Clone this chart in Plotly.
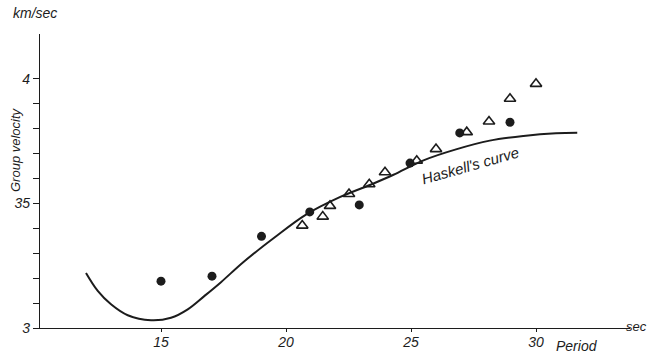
import plotly.graph_objects as go

# Haskell's theoretical curve (period in s, group velocity in km/s)
curve_period = [12.0, 12.47, 13.0, 13.67, 14.6, 15.4, 16.07, 16.73, 17.4, 18.3, 19.5,
                20.8, 22.15, 23.5, 24.3, 25.5, 26.8, 28.15, 29.5, 30.8, 31.65]
curve_velocity = [3.221, 3.149, 3.095, 3.051, 3.031, 3.041, 3.075, 3.128, 3.184, 3.265, 3.36,
                  3.455, 3.525, 3.58, 3.615, 3.673, 3.717, 3.752, 3.771, 3.782, 3.784]

# Observed values - filled circles
circle_period = [15.0, 17.04, 19.02, 20.95, 22.93, 24.96, 26.95, 28.96]
circle_velocity = [3.188, 3.208, 3.368, 3.466, 3.494, 3.662, 3.783, 3.826]

# Observed values - open triangles
tri_period = [20.65, 21.47, 21.76, 22.52, 23.33, 23.96, 25.23, 26.0, 27.23, 28.12, 28.96, 30.0]
tri_velocity = [3.411, 3.447, 3.49, 3.538, 3.577, 3.625, 3.671, 3.718, 3.786, 3.829, 3.92, 3.98]

# Axis ticks
x_tick_vals = [15, 20, 25, 30]
x_tick_text = ["15", "20", "25", "30"]
y_tick_vals = [3.0, 3.1, 3.2, 3.3, 3.4, 3.5, 3.6, 3.7, 3.8, 3.9, 4.0]
y_tick_text = ["3", "", "", "", "", "35", "", "", "", "", "4"]

INK = "#1c1c1c"
FONT = "Liberation Sans"

fig = go.Figure()
fig.add_trace(go.Scatter(x=curve_period, y=curve_velocity, mode="lines",
                         line=dict(color=INK, width=2, shape="spline", smoothing=1.0),
                         hoverinfo="skip", showlegend=False))
fig.add_trace(go.Scatter(x=tri_period, y=tri_velocity, mode="markers",
                         marker=dict(symbol="triangle-up-open", size=10, color=INK,
                                     line=dict(width=1.6, color=INK)),
                         showlegend=False))
fig.add_trace(go.Scatter(x=circle_period, y=circle_velocity, mode="markers",
                         marker=dict(symbol="circle", size=9, color=INK),
                         showlegend=False))

L, T, W, H = 40, 34, 590, 294


def px(x):
    return (x - L) / W


def py(y):
    return (T + H - y) / H


ann = [
    dict(text="km/sec", x=px(35), y=py(13), size=14, angle=0),
    dict(text="Group velocity", x=px(15), y=py(150), size=13, angle=-90),
    dict(text="sec", x=px(636), y=py(326), size=13, angle=0),
    dict(text="Period", x=px(577), y=py(346), size=14, angle=0),
    dict(text="Haskell's curve", x=px(470), y=py(165), size=15, angle=-16),
]

fig.update_layout(
    width=650, height=354,
    margin=dict(l=L, r=650 - L - W, t=T, b=354 - T - H, autoexpand=False),
    paper_bgcolor="white", plot_bgcolor="white",
    font=dict(family=FONT, color=INK, size=12, style="italic"),
    xaxis=dict(range=[10.16, 33.76], showgrid=False, zeroline=False, automargin=False,
               showline=True, linecolor=INK, linewidth=1.3,
               tickmode="array", tickvals=x_tick_vals, ticktext=x_tick_text,
               ticks="outside", ticklen=3, tickwidth=1, tickcolor=INK,
               ticklabelstandoff=-2,
               tickfont=dict(family=FONT, size=14, color=INK, style="italic")),
    yaxis=dict(range=[3.0, 4.18], showgrid=False, zeroline=False, automargin=False,
               showline=True, linecolor=INK, linewidth=1.3,
               tickmode="array", tickvals=y_tick_vals, ticktext=y_tick_text,
               ticks="outside", ticklen=6, tickwidth=1, tickcolor=INK,
               tickfont=dict(family=FONT, size=14, color=INK, style="italic")),
    annotations=[dict(text=a["text"], x=a["x"], y=a["y"], xref="paper", yref="paper",
                      xanchor="center", yanchor="middle",
                      showarrow=False, textangle=a["angle"],
                      font=dict(family=FONT, size=a["size"], color=INK, style="italic"))
                 for a in ann],
)

fig.write_html("out.html")
